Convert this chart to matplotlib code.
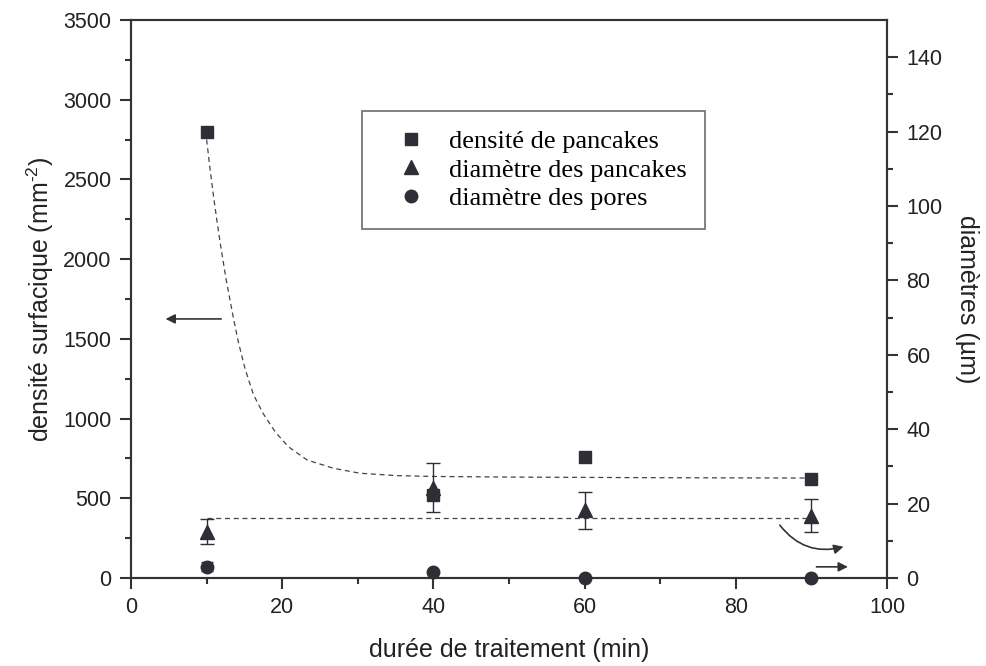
import matplotlib
matplotlib.use("Agg")
import matplotlib.pyplot as plt
from matplotlib.lines import Line2D

# measured points
durations = [10, 40, 60, 90]
pancake_density = [2800, 520, 760, 620]  # mm^-2, left axis
pancake_diameter = [12.5, 24.3, 18.2, 16.8]  # µm, right axis
pancake_diameter_err = [3.4, 6.6, 5.0, 4.4]
pore_diameter = [3.0, 1.6, 0.0, 0.0]  # µm, right axis
pore_diameter_err = [1.2, 0.0, 0.0, 0.0]

# dashed guide for the density
density_guide_x = [10.0, 10.5, 10.9, 11.35, 11.8, 12.14, 12.67, 13.55, 14.2, 15.1, 16.2,
                   17.5, 19.1, 20.8, 23.3, 26.8, 30.3, 35.2, 40.0, 50.0, 70.0, 90.0]
density_guide_y = [2750, 2549, 2401, 2246, 2102, 2000, 1850, 1630, 1480, 1310, 1150,
                   1030, 915, 824, 740, 688, 657, 642, 637, 633, 629, 627]
diameter_guide_x = [10, 90]
diameter_guide_y = [16.1, 16.1]

MARK = "#2e2e36"
SPINE = "#333333"

plt.rcParams["font.family"] = ["Liberation Sans", "DejaVu Sans"]
plt.rcParams["mathtext.fontset"] = "custom"
plt.rcParams["mathtext.rm"] = "Liberation Sans"

fig = plt.figure(figsize=(9.86, 6.66), dpi=100)
ax = fig.add_axes([131 / 986, 88 / 666, 756 / 986, 558 / 666])
ax2 = ax.twinx()

ax.plot(density_guide_x, density_guide_y, ls=(0, (4, 3)), color="#444444", lw=0.9)
ax.plot(durations, pancake_density, ls="none", marker="s", ms=8, color=MARK, zorder=5)

ax2.plot(diameter_guide_x, diameter_guide_y, ls=(0, (4, 3)), color="#444444", lw=0.9)
ax2.errorbar(durations, pancake_diameter, yerr=pancake_diameter_err, ls="none",
             marker="^", ms=10, color=MARK, ecolor=MARK, elinewidth=1,
             capsize=5, capthick=1, zorder=5)
ax2.errorbar(durations, pore_diameter, yerr=pore_diameter_err, ls="none",
             marker="o", ms=9, color=MARK, ecolor=MARK, elinewidth=1,
             capsize=4, capthick=1, zorder=5, clip_on=False)

ax.set_xlim(0, 100)
ax.set_ylim(0, 3500)
ax2.set_ylim(0, 150)
ax.set_xticks(range(0, 101, 20))
ax.set_xticks(range(10, 100, 20), minor=True)
ax.set_yticks(range(0, 3501, 500))
ax.set_yticks(range(250, 3500, 500), minor=True)
ax2.set_yticks(range(0, 141, 20))
ax2.set_yticks(range(10, 150, 20), minor=True)

for a in (ax, ax2):
    a.tick_params(which="major", direction="out", length=8, width=1.5, color=SPINE,
                  labelsize=15.5, labelcolor="#222222", pad=6)
    a.tick_params(which="minor", direction="out", length=4.5, width=1.5, color=SPINE)
    for s in a.spines.values():
        s.set_linewidth(1.5)
        s.set_color(SPINE)

ax.set_xlabel("durée de traitement (min)", fontsize=18, color="#222222", labelpad=14)
ax.set_ylabel(r"densité surfacique (mm$^{\text{-2}}$)", fontsize=18, color="#222222",
              labelpad=5)
ax2.set_ylabel("diamètres (µm)", fontsize=18, color="#222222", rotation=-90, labelpad=26)

# arrows telling which axis each series uses
ax.annotate("", xy=(4.2, 1625), xytext=(12.3, 1625),
            arrowprops=dict(arrowstyle="-|>", color=SPINE, lw=1.2, mutation_scale=14))
ax2.annotate("", xy=(94.6, 8.6), xytext=(85.6, 14.8),
             arrowprops=dict(arrowstyle="-|>", color=SPINE, lw=1.2, mutation_scale=14,
                             connectionstyle="arc3,rad=0.35"))
ax2.annotate("", xy=(95.2, 3.0), xytext=(90.3, 3.0),
             arrowprops=dict(arrowstyle="-|>", color=SPINE, lw=1.2, mutation_scale=14))

handles = [
    Line2D([], [], ls="none", marker="s", ms=8, color=MARK),
    Line2D([], [], ls="none", marker="^", ms=10, color=MARK),
    Line2D([], [], ls="none", marker="o", ms=9, color=MARK),
]
labels = ["densité de pancakes", "diamètre des pancakes", "diamètre des pores"]
leg = ax2.legend(handles, labels, loc="upper left",
                 bbox_to_anchor=(362 / 986, 1 - 111 / 666), bbox_transform=fig.transFigure,
                 prop={"family": ["Liberation Serif", "DejaVu Serif"], "size": 19},
                 frameon=True, fancybox=False, borderpad=0.7, handletextpad=0.3,
                 labelspacing=0.2, handlelength=2.3, borderaxespad=0)
leg.get_frame().set_edgecolor("#555555")
leg.get_frame().set_linewidth(1.3)

fig.savefig("out.png", dpi=100)
